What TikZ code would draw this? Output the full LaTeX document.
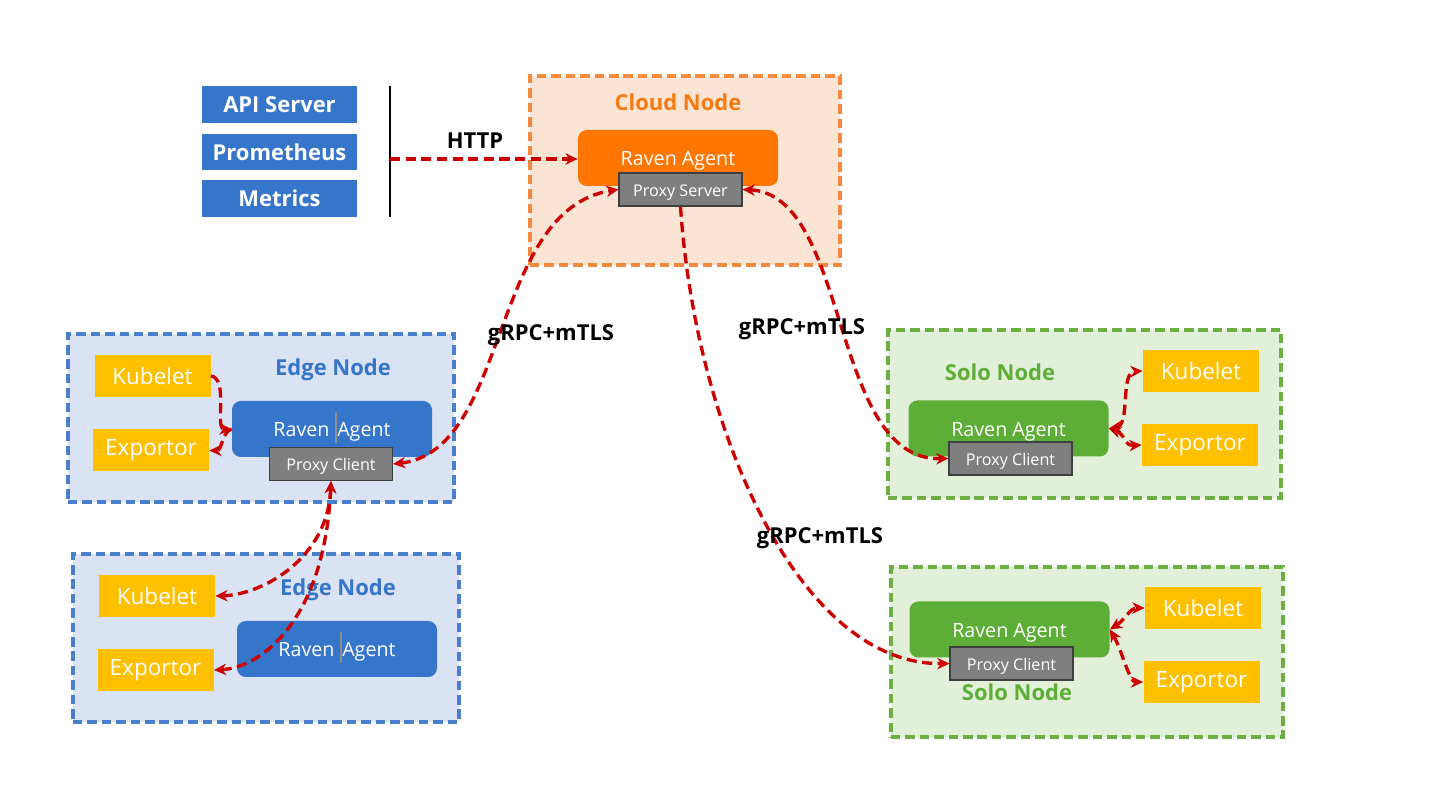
\documentclass[tikz,border=0pt]{standalone}
\usepackage{fontspec}
\setmainfont{Open Sans}
\usetikzlibrary{arrows.meta}

\definecolor{srcblue}{HTML}{3575CA}
\definecolor{edgefill}{HTML}{DAE3F3}
\definecolor{edgeline}{HTML}{4A7FCB}
\definecolor{cloudfill}{HTML}{FCE4D4}
\definecolor{cloudline}{HTML}{F58A3E}
\definecolor{cloudtitle}{HTML}{F57A12}
\definecolor{cloudagent}{HTML}{FF7700}
\definecolor{solofill}{HTML}{E2F0D9}
\definecolor{sololine}{HTML}{6CB043}
\definecolor{sologreen}{HTML}{5DAE36}
\definecolor{compyellow}{HTML}{FFC000}
\definecolor{proxygray}{HTML}{7F7F7F}
\definecolor{proxyborder}{HTML}{3F3F3F}
\definecolor{cursorgray}{HTML}{8C8C8C}
\definecolor{linkred}{HTML}{CC0000}

\begin{document}
\begin{tikzpicture}[
  >={Stealth[length=7pt,width=6.5pt]},
  lbl/.style={font=\fontsize{12.5}{14}\selectfont\bfseries},
  srcbox/.style={fill=srcblue, text=white, minimum width=3.1cm, minimum height=0.73cm, inner sep=0pt, font=\fontsize{12.5}{14}\selectfont\bfseries},
  hostbox/.style={line width=1.8pt, dash pattern=on 5.4pt off 2.8pt, inner sep=0pt},
  agentbox/.style={rounded corners=5pt, text=white, minimum width=4cm, minimum height=1.12cm, inner sep=0pt, text height=1.1em, text depth=0.2em, font=\fontsize{11.2}{13}\selectfont},
  proxybox/.style={fill=proxygray, draw=proxyborder, line width=0.6pt, text=white, minimum width=2.46cm, minimum height=0.66cm, inner sep=0pt, text height=0.95em, text depth=0.2em, font=\fontsize{9.2}{11}\selectfont},
  compbox/.style={fill=compyellow, text=white, minimum width=2.32cm, minimum height=0.84cm, inner sep=0pt, font=\fontsize{12.8}{14}\selectfont},
  link/.style={draw=linkred, line width=1.9pt, dash pattern=on 5.8pt off 3.1pt},
]
\useasboundingbox[fill=white] (0,0) rectangle (28.8,16.2);

% Sources on the left
\node [srcbox] (apiserver) at (5.59,14.11) {API Server};
\node [srcbox] (prometheus) at (5.59,13.16) {Prometheus};
\node [srcbox] (metrics) at (5.59,12.23) {Metrics};
\coordinate (bartop) at (7.8,14.48);
\coordinate (barbot) at (7.8,11.86);
\draw [line width=1pt] (bartop) -- (barbot);
\coordinate (httpsrc) at (7.8,13.02);

% Cloud node
\node [hostbox, fill=cloudfill, draw=cloudline, minimum width=6.2cm, minimum height=3.78cm] (cloud) at (13.7,12.79) {};
\node [lbl, text=cloudtitle] (cloudtitle) at (13.56,14.16) {Cloud Node};
\node [agentbox, fill=cloudagent] (cloudagent) at (13.56,13.04) {Raven Agent};
\node [proxybox] (cloudproxy) at (13.61,12.41) {Proxy Server};

% Edge node A
\node [hostbox, fill=edgefill, draw=edgeline, minimum width=7.72cm, minimum height=3.36cm] (edgeA) at (5.22,7.84) {};
\node [lbl, text=srcblue] (edgeAtitle) at (6.66,8.8) {Edge Node};
\node [compbox] (edgeAkubelet) at (3.05,8.68) {Kubelet};
\node [compbox] (edgeAexportor) at (3.02,7.19) {Exportor};
\node [agentbox, fill=srcblue] (edgeAagent) at (6.64,7.62) {Raven \textcolor{cursorgray}{\rule[-0.33em]{1.5pt}{1.6em}}Agent};
\node [proxybox] (edgeAproxy) at (6.62,6.92) {Proxy Client};

% Edge node B
\node [hostbox, fill=edgefill, draw=edgeline, minimum width=7.72cm, minimum height=3.36cm] (edgeB) at (5.32,3.44) {};
\node [lbl, text=srcblue] (edgeBtitle) at (6.76,4.4) {Edge Node};
\node [compbox] (edgeBkubelet) at (3.14,4.28) {Kubelet};
\node [compbox] (edgeBexportor) at (3.11,2.8) {Exportor};
\node [agentbox, fill=srcblue] (edgeBagent) at (6.74,3.22) {Raven \textcolor{cursorgray}{\rule[-0.33em]{1.5pt}{1.6em}}Agent};

% Solo node A
\node [hostbox, fill=solofill, draw=sololine, minimum width=7.86cm, minimum height=3.36cm] (soloA) at (21.69,7.92) {};
\node [lbl, text=sologreen] (soloAtitle) at (20.0,8.76) {Solo Node};
\node [compbox] (soloAkubelet) at (24.02,8.78) {Kubelet};
\node [compbox] (soloAexportor) at (24.0,7.3) {Exportor};
\node [agentbox, fill=sologreen] (soloAagent) at (20.17,7.63) {Raven Agent};
\node [proxybox] (soloAproxy) at (20.21,7.03) {Proxy Client};

% Solo node B
\node [hostbox, fill=solofill, draw=sololine, minimum width=7.84cm, minimum height=3.4cm] (soloB) at (21.74,3.16) {};
\node [compbox] (soloBkubelet) at (24.06,4.04) {Kubelet};
\node [compbox] (soloBexportor) at (24.03,2.56) {Exportor};
\node [agentbox, fill=sologreen] (soloBagent) at (20.19,3.61) {Raven Agent};
\node [proxybox] (soloBproxy) at (20.23,2.93) {Proxy Client};
\node [lbl, text=sologreen] (soloBtitle) at (20.34,2.36) {Solo Node};

% HTTP link
\draw [link, ->] (httpsrc) -- (cloudagent.west |- httpsrc);
\node [lbl] (httplbl) at (9.5,13.38) {HTTP};

% Tunnels to the cloud
\draw [link, <->] (edgeAproxy.east) .. controls +(2.34,0.26) and +(-2.58,-0.4) .. (cloudproxy.west);
\draw [link, <->] (cloudproxy.east) .. controls +(2.16,-0.1) and +(-2.38,-0.06) .. (soloAproxy.west);
\draw [link, ->] (cloudproxy.south) .. controls +(0.3,-4.48) and +(-3.0,-0.04) .. (soloBproxy.west);
\node [lbl] (grpcA) at (11.02,9.5) {gRPC+mTLS};
\node [lbl] (grpcB) at (16.04,9.62) {gRPC+mTLS};
\node [lbl] (grpcC) at (16.4,5.44) {gRPC+mTLS};

% Local links, edge nodes
\draw [link, ->] (edgeAkubelet.east) .. controls +(0.36,-0.04) and +(-0.34,0) .. (edgeAagent.west);
\draw [link, ->] (edgeAagent.west) .. controls +(-0.2,-0.06) and +(0.26,0) .. (edgeAexportor.east);
\draw [link, <->] (edgeAproxy.south) .. controls +(-0.06,-1.58) and +(0.9,0.02) .. (edgeBkubelet.east);
\draw [link, <->] (edgeAproxy.south) .. controls +(-0.12,-2.78) and +(0.94,0.04) .. (edgeBexportor.east);

% Local links, solo nodes
\draw [link, <->] (soloAagent.east) .. controls +(0.44,0.06) and +(-0.46,-0.02) .. (soloAkubelet.west);
\draw [link, <->] (soloAagent.east) .. controls +(0.34,-0.12) and +(-0.36,-0.02) .. (soloAexportor.west);
\draw [link, <->] (soloBagent.east) .. controls +(0.3,0.19) and +(-0.3,0) .. (soloBkubelet.west);
\draw [link, <->] (soloBagent.east) .. controls +(0.24,-0.41) and +(-0.28,0) .. (soloBexportor.west);
\end{tikzpicture}
\end{document}
